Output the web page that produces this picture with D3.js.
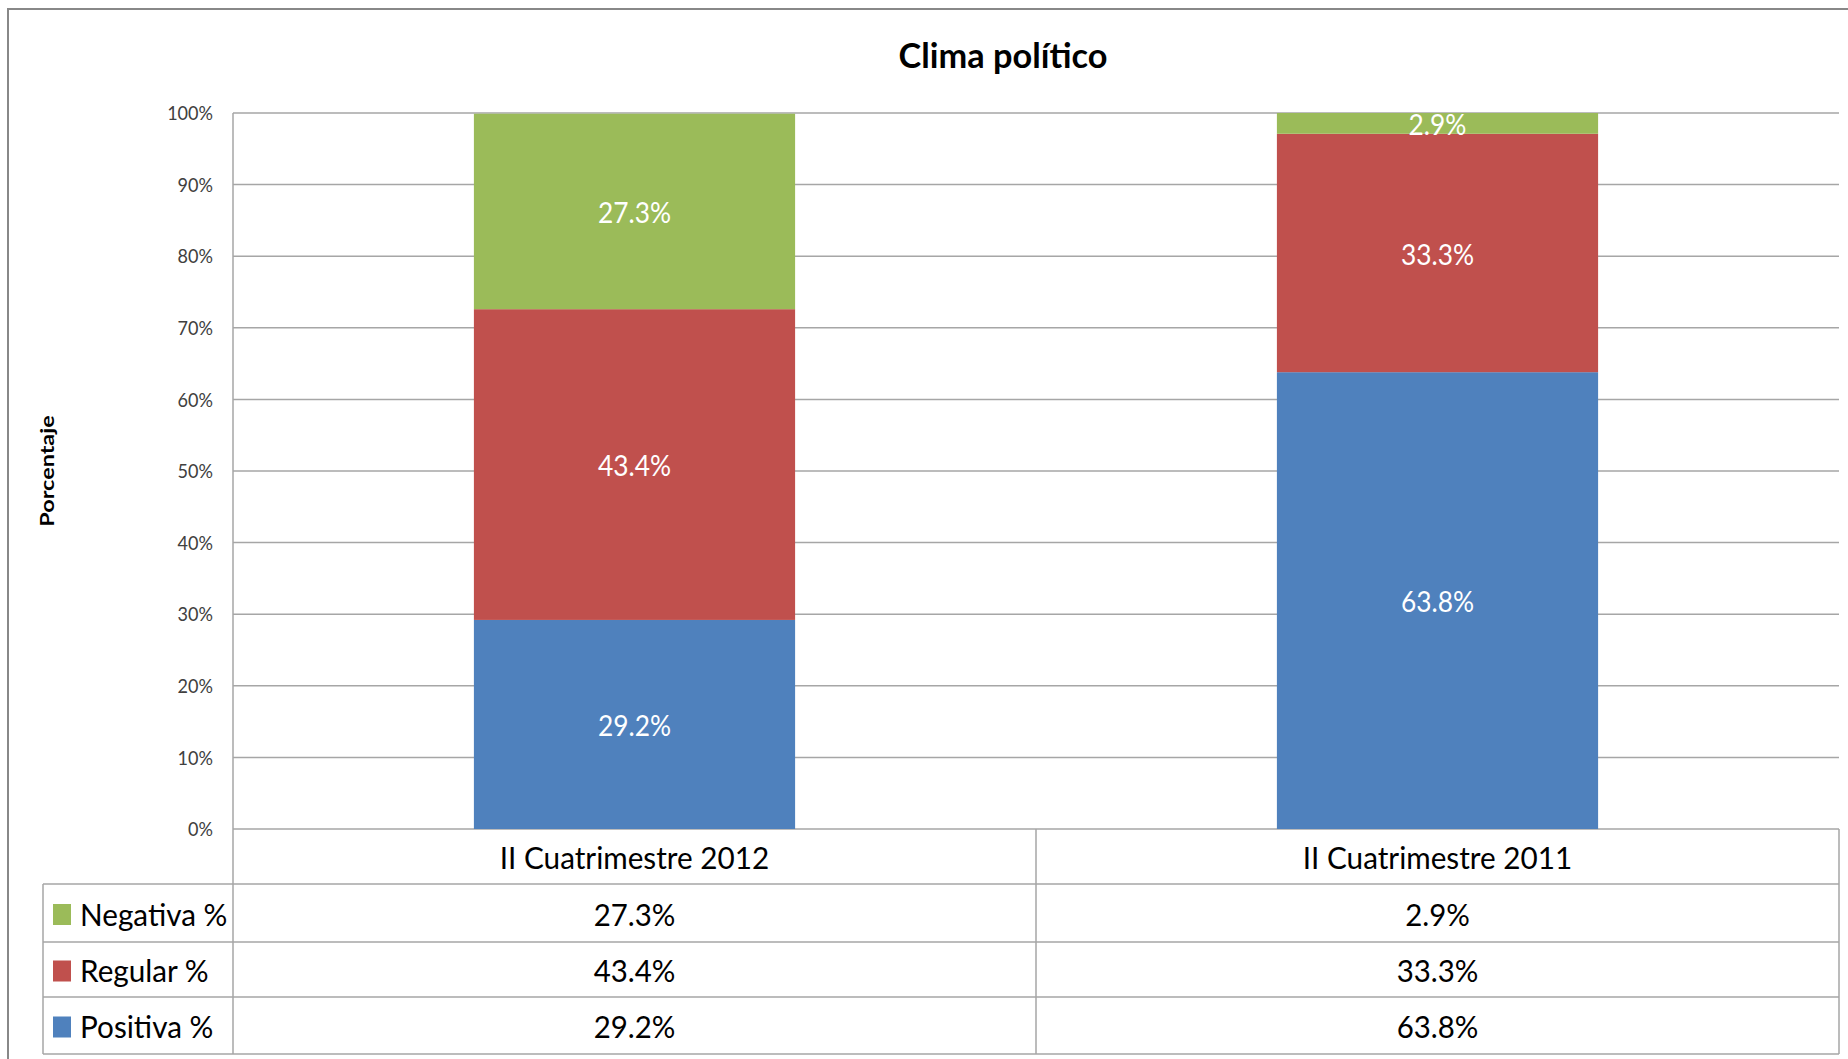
<!DOCTYPE html>
<html><head><meta charset="utf-8">
<script src="https://cdn.jsdelivr.net/npm/d3@7"></script>
<style>
html,body{margin:0;padding:0;background:#fff;}
svg{display:block;}
text{font-family:Lato,"Open Sans",sans-serif;}
</style></head>
<body>
<svg id="chart" width="1848" height="1059"></svg>
<script>
const title = "Clima político";
const yAxisTitle = "Porcentaje";
const categories = ["II Cuatrimestre 2012", "II Cuatrimestre 2011"];
const seriesNames = ["Positiva %", "Regular %", "Negativa %"];
const seriesColors = ["#4F81BD", "#C0504D", "#9BBB59"];
const positiva = [29.2, 63.8];
const regular = [43.4, 33.3];
const negativa = [27.3, 2.9];
const yTicks = [0, 10, 20, 30, 40, 50, 60, 70, 80, 90, 100];

const seriesValues = [positiva, regular, negativa];

const svg = d3.select("#chart");
const W = 1848, H = 1059;
const plot = {left: 233, right: 1839, top: 113, bottom: 829};
const tableRows = [829, 884, 942, 997, 1054];
const legendLeft = 43;

const x = d3.scaleBand().domain(categories).range([plot.left, plot.right])
  .paddingInner(0.6).paddingOuter(0.3);
const xCol = d3.scaleBand().domain(categories).range([plot.left, plot.right]);
const y = d3.scaleLinear().domain([0, 100]).range([plot.bottom, plot.top]);

function txt(g, xx, yy, s, opts) {
  const t = g.append("text")
    .attr("transform", `translate(${xx},${yy}) scale(${opts.sx},1)`)
    .attr("text-anchor", opts.anchor || "middle")
    .attr("dominant-baseline", "central")
    .attr("font-size", opts.size)
    .attr("fill", opts.fill || "#000")
    .text(s);
  if (opts.weight) t.attr("font-weight", opts.weight);
  return t;
}

// outer border
svg.append("path")
  .attr("d", `M8,${H+5} L8,9 L${W+5},9`)
  .attr("fill", "none").attr("stroke", "#888").attr("stroke-width", 2);

// title
txt(svg, 1003, 54, title, {size: 35, weight: "bold", sx: 0.98});

// y axis title
svg.append("text")
  .attr("transform", `translate(47,${(plot.top + plot.bottom) / 2}) rotate(-90) scale(1.3,1)`)
  .attr("text-anchor", "middle").attr("dominant-baseline", "central")
  .attr("font-size", 18).attr("font-weight", "bold").attr("fill", "#000")
  .text(yAxisTitle);

// gridlines
svg.append("g").selectAll("line").data(yTicks).join("line")
  .attr("x1", plot.left).attr("x2", plot.right)
  .attr("y1", d => y(d)).attr("y2", d => y(d))
  .attr("stroke", "#A6A6A6").attr("stroke-width", 1.5);

// y tick labels
const yl = svg.append("g");
yTicks.forEach(d => txt(yl, 213, y(d), d + "%", {size: 19, anchor: "end", fill: "#404040", sx: 0.95}));

// stacked bars
const stackData = categories.map((c, i) => {
  const o = {cat: c};
  seriesNames.forEach((s, j) => o[s] = seriesValues[j][i]);
  return o;
});
const stacked = d3.stack().keys(seriesNames)(stackData);
const bars = svg.append("g");
stacked.forEach((layer, j) => {
  layer.forEach(seg => {
    const cat = seg.data.cat;
    bars.append("rect")
      .attr("x", x(cat)).attr("width", x.bandwidth())
      .attr("y", y(seg[1])).attr("height", y(seg[0]) - y(seg[1]))
      .attr("fill", seriesColors[j]);
  });
});
stacked.forEach((layer, j) => {
  layer.forEach(seg => {
    const cat = seg.data.cat;
    const v = seg[1] - seg[0];
    txt(bars, x(cat) + x.bandwidth() / 2, (y(seg[0]) + y(seg[1])) / 2 + 1,
      v.toFixed(1) + "%", {size: 28, fill: "#fff", sx: 0.94});
  });
});

// axis line (left) through table
svg.append("line").attr("x1", plot.left).attr("x2", plot.left)
  .attr("y1", plot.top).attr("y2", tableRows[4])
  .attr("stroke", "#A6A6A6").attr("stroke-width", 1.5);

// data table
const tg = svg.append("g");
tableRows.slice(1).forEach(r => tg.append("line")
  .attr("x1", legendLeft).attr("x2", plot.right).attr("y1", r).attr("y2", r)
  .attr("stroke", "#A6A6A6").attr("stroke-width", 1.5));
tg.append("line").attr("x1", legendLeft).attr("x2", legendLeft)
  .attr("y1", tableRows[1]).attr("y2", tableRows[4])
  .attr("stroke", "#A6A6A6").attr("stroke-width", 1.5);
[xCol(categories[1]), plot.right].forEach(xx => tg.append("line")
  .attr("x1", xx).attr("x2", xx).attr("y1", tableRows[0]).attr("y2", tableRows[4])
  .attr("stroke", "#A6A6A6").attr("stroke-width", 1.5));

// header
categories.forEach(c => txt(tg, xCol(c) + xCol.bandwidth() / 2,
  (tableRows[0] + tableRows[1]) / 2 + 1, c, {size: 30, sx: 0.99}));

// rows: Negativa, Regular, Positiva (top to bottom)
const rowOrder = [2, 1, 0];
rowOrder.forEach((j, r) => {
  const cy = (tableRows[r + 1] + tableRows[r + 2]) / 2 + 1;
  tg.append("rect").attr("x", 53).attr("y", cy - 10).attr("width", 18).attr("height", 21)
    .attr("fill", seriesColors[j]);
  txt(tg, 80, cy, seriesNames[j], {size: 30, anchor: "start", sx: 0.99});
  categories.forEach((c, i) => txt(tg, xCol(c) + xCol.bandwidth() / 2, cy,
    seriesValues[j][i].toFixed(1) + "%", {size: 30, sx: 0.98}));
});
</script>
</body></html>
